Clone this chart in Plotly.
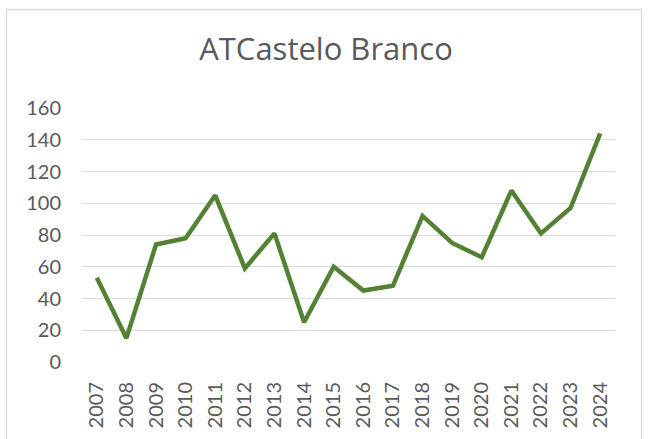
import plotly.graph_objects as go

years = [str(y) for y in range(2007, 2025)]
values = [53, 15, 74, 78, 105, 59, 81, 25, 60, 45, 48, 92, 75, 66, 108, 81, 97, 144]
y_ticks = [0, 20, 40, 60, 80, 100, 120, 140, 160]

W, H = 648, 439
L, R, T, B = 82, 33, 108, 77
pw, ph = W - L - R, H - T - B

def px(x):
    return (x - L) / pw

def py(y):
    return (H - B - y) / ph

fig = go.Figure()
fig.add_trace(go.Scatter(
    x=years, y=values, mode="lines",
    line=dict(color="#548235", width=4.5),
    hoverinfo="skip",
))

fig.update_layout(
    width=W, height=H,
    margin=dict(l=L, r=R, t=T, b=B),
    paper_bgcolor="white", plot_bgcolor="white",
    showlegend=False,
    font=dict(family="Lato", color="#595959", size=20),
    title=dict(text="ATCastelo Branco", x=326 / W, xanchor="center",
               y=1 - 49 / H, yanchor="middle",
               font=dict(family="Open Sans", size=31, color="#595959")),
    xaxis=dict(type="category", range=[-0.5, len(years) - 0.5],
               tickangle=-90, showgrid=False, automargin=False,
               showline=False, zeroline=False, ticks="",
               ticklabelstandoff=15,
               tickfont=dict(size=20, color="#595959")),
    yaxis=dict(range=[0, 160], tickvals=y_ticks, showgrid=True,
               gridcolor="#d9d9d9", gridwidth=1.3, zeroline=False,
               automargin=False,
               showline=False, ticks="", ticklabelstandoff=20,
               tickfont=dict(size=20, color="#595959")),
    shapes=[dict(type="rect", xref="paper", yref="paper",
                 x0=px(6.5), x1=px(641.5), y0=py(460), y1=py(9.5),
                 line=dict(color="#d9d9d9", width=1.3), layer="below")],
)

fig.write_html("out.html", config={"displayModeBar": False},
               post_script="document.body.style.margin='0';document.body.style.overflow='hidden';")
